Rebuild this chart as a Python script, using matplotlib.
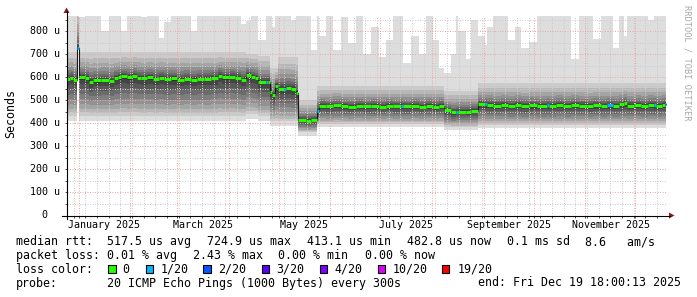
import datetime as dt
import numpy as np
import matplotlib
matplotlib.use("Agg")
import matplotlib.pyplot as plt
import matplotlib.dates as mdates
import matplotlib.transforms as mtrans
from matplotlib.patches import Rectangle, Polygon
from matplotlib.lines import Line2D

# ---------------- data ----------------
start = dt.datetime(2024, 12, 24, 18, 0, 13)
end = dt.datetime(2025, 12, 19, 18, 0, 13)
data_end_day = 359.4

# steps: start day (offset from start), median rtt (us), highest ping (us), lost pings of 20
step_day = [0, 1.8, 3.6, 6.4, 7.4, 10.8, 13.2, 15.6, 20.4, 25.2, 28.2, 30.6, 32.4, 36, 39,
            42, 44.4, 48, 51.6, 55.2, 58.2, 62.4, 66, 70.2, 74.4, 78, 82.2, 86.4, 90.6, 93,
            97.2, 100.8, 104.4, 107.4, 110.4, 112.8, 114.6, 119.4, 120.6, 121.8, 123, 124.8,
            126.6, 130.2, 131.4, 134.4, 137.4, 138.6, 143.4, 146.4, 150, 151.2, 155.4, 159.6,
            164.4, 168.6, 173.4, 177.6, 182.4, 187.2, 191.4, 195.6, 200.4, 201.6, 206.4, 211.2,
            215.4, 219.6, 223.2, 226.2, 230.4, 233.4, 234.6, 239.4, 242.4, 246.6, 250.8, 252,
            255.6, 260.4, 264.6, 268.8, 272.4, 277.2, 282, 288, 289.2, 293.4, 297.6, 302.4,
            307.2, 312, 315.6, 320.4, 324, 327.6, 331.2, 334.2, 336, 340.2, 344.4, 348.6,
            352.2, 353.4, 357, 358.8]
median_us = [593, 597, 587, 725, 600, 598, 580, 586, 588, 584, 596, 600, 604, 600, 605,
             598, 596, 600, 594, 597, 592, 595, 590, 594, 590, 594, 592, 596, 607, 600,
             603, 597, 590, 610, 602, 596, 579, 579, 579, 538, 521, 564,
             550, 550, 552, 549, 530, 414, 412, 414, 453, 477, 474, 478,
             475, 472, 477, 474, 476, 473, 477, 474, 476, 474, 477, 473,
             476, 472, 476, 456, 448, 450, 450, 449, 455, 483, 482, 479,
             477, 480, 476, 479, 475, 478, 476, 478, 476, 480, 476, 479,
             477, 475, 478, 476, 478, 476, 482, 487, 477, 479, 476, 479,
             478, 476, 480, 482]
max_us = [900, 900, 900, 900, 860, 900, 900, 900, 800, 900, 900, 900, 800, 900, 900,
          900, 860, 900, 900, 770, 840, 900, 900, 900, 800, 900, 900, 900, 900, 900,
          900, 900, 830, 845, 900, 900, 760, 900, 900, 900, 820, 900,
          900, 900, 900, 850, 900, 900, 900, 720, 900, 780, 900, 720,
          860, 750, 900, 700, 820, 690, 760, 900, 900, 660, 780, 700,
          900, 760, 640, 620, 700, 880, 800, 680, 850, 780, 740, 820,
          900, 900, 760, 820, 725, 752, 900, 900, 900, 900, 900, 681,
          900, 900, 768, 900, 900, 725, 900, 780, 900, 900, 900, 850,
          900, 900, 900, 900]
loss_n = [0, 0, 0, 1, 0, 0, 0, 0, 0, 0, 0, 0, 0, 0, 0,
          0, 0, 0, 0, 0, 0, 0, 0, 0, 0, 0, 0, 0, 0, 0,
          0, 0, 0, 0, 0, 0, 0, 1, 0, 0, 0, 0,
          0, 1, 0, 0, 0, 0, 0, 0, 1, 0, 0, 0,
          0, 0, 0, 0, 0, 0, 0, 0, 1, 0, 0, 0,
          0, 0, 0, 0, 0, 1, 0, 0, 0, 0, 1, 0,
          0, 0, 0, 0, 0, 0, 0, 1, 0, 0, 0, 0,
          0, 0, 0, 0, 1, 0, 0, 0, 0, 0, 0, 0,
          1, 0, 0, 1]

# smoke periods: start day, lowest ping, 2nd lowest, 2nd highest (us)
seg_start_day = [0, 6.4, 7.4, 107.4, 114.6, 121.8, 126.6, 138.6, 150, 226.2, 246.6]
seg_p1 = [410, 722, 410, 418, 412, 390, 390, 347, 383, 369, 379]
seg_p2 = [434, 723, 434, 440, 432, 410, 408, 362, 398, 385, 394]
seg_p19 = [709, 900, 709, 703, 694, 640, 690, 500, 564, 542, 573]
# relative position of inner pings between median and 2nd lowest / 2nd highest
lower_frac = [0.92, 0.82, 0.70, 0.57, 0.43, 0.30, 0.17, 0.06]   # p3..p10
upper_frac = [0.03, 0.08, 0.14, 0.22, 0.32, 0.45, 0.60, 0.78]   # p11..p18

loss_levels = [0, 1, 2, 3, 4, 10, 19]
loss_labels = ["0", "1/20", "2/20", "3/20", "4/20", "10/20", "19/20"]
loss_colors = ["#26ff00", "#00b8ff", "#0059ff", "#5e00ff", "#7e00ff", "#dd00ff", "#ff0000"]

y_ticks_us = [0, 100, 200, 300, 400, 500, 600, 700, 800]
month_labels = ["January 2025", "March 2025", "May 2025", "July 2025",
                "September 2025", "November 2025"]
month_label_num = [1, 3, 5, 7, 9, 11]

stats_rtt = ["517.5 us avg", "724.9 us max", "413.1 us min", "482.8 us now",
             "0.1 ms sd", "8.6   am/s"]
stats_loss = ["0.01 % avg", "2.43 % max", "0.00 % min", "0.00 % now"]
probe_text = "20 ICMP Echo Pings (1000 Bytes) every 300s"
end_text = "end: Fri Dec 19 18:00:13 2025"

# ---------------- figure ----------------
W, H = 697, 297
MONO = "DejaVu Sans Mono"
fig = plt.figure(figsize=(W / 100, H / 100), dpi=100)
fig.patch.set_facecolor("white")


def fx(x):
    return x / W


def fy(y):
    return 1 - y / H


L, R, T, B = 66.5, 666.5, 15.5, 215.5
YTOP = 868.0
ax = fig.add_axes([fx(L), fy(B), (R - L) / W, (B - T) / H])
ax.set_facecolor("white")
for s in ax.spines.values():
    s.set_visible(False)

t0 = mdates.date2num(start)
t1 = mdates.date2num(end)
xs = t0 + np.array(step_day + [data_end_day])
med = np.array(median_us + [median_us[-1]], dtype=float)
top = np.array(max_us + [max_us[-1]], dtype=float)
idx = np.searchsorted(seg_start_day, np.array(step_day + [data_end_day]), side="right") - 1
p1 = np.array(seg_p1, float)[idx]
p2 = np.array(seg_p2, float)[idx]
p19 = np.array(seg_p19, float)[idx]

pings = [None, p1, p2]
for f in lower_frac:
    pings.append(med - f * (med - p2))
for f in upper_frac:
    pings.append(med + f * (p19 - med))
pings.append(p19)
pings.append(top)

for k in range(1, 11):
    g = int(190 / 10 * (10 - k)) + 50
    col = "#%02x%02x%02x" % (g, g, g)
    ax.fill_between(xs, pings[k], pings[21 - k], step="post", color=col, lw=0, zorder=1)

# median: thin dark line plus loss-coloured bars
ax.step(xs, med, where="post", color="#1a1a1a", lw=0.8, zorder=3)
for i in range(len(step_day)):
    c = loss_colors[max(j for j, lv in enumerate(loss_levels) if loss_n[i] >= lv)]
    ax.hlines(median_us[i], xs[i], xs[i + 1], color=c, lw=2.1, zorder=4)

ax.set_xlim(t0, t1)
ax.set_ylim(0, YTOP)
ax.xaxis_date()
ax.xaxis.set_major_locator(mdates.MonthLocator())
ax.xaxis.set_minor_locator(mdates.WeekdayLocator(byweekday=mdates.SU))
ax.set_yticks(y_ticks_us)
ax.set_yticks([v + 50 for v in y_ticks_us], minor=True)
ax.set_axisbelow(False)
ax.grid(which="minor", color="#cccccc", ls=(0, (1, 1.5)), lw=0.72)
ax.grid(which="major", color="#eea6a6", ls=(0, (1, 1.5)), lw=0.72)
ax.tick_params(which="both", direction="out", length=1.6, width=0.6, color="#333333",
               labelleft=False, labelbottom=False)

# custom axis lines and arrows
fig.add_artist(Line2D([fx(62), fx(670)], [fy(215.5), fy(215.5)], color="black", lw=0.8))
fig.add_artist(Line2D([fx(66.5), fx(66.5)], [fy(219), fy(11)], color="black", lw=0.8))
fig.add_artist(Polygon([(fx(63.5), fy(13)), (fx(69.5), fy(13)), (fx(66.5), fy(7.5))],
                       closed=True, transform=fig.transFigure, color="#8b1a1a", lw=0))
fig.add_artist(Polygon([(fx(669), fy(212.5)), (fx(669), fy(218.5)), (fx(674.5), fy(215.5))],
                       closed=True, transform=fig.transFigure, color="#8b1a1a", lw=0))

# y tick labels
for v in y_ticks_us:
    y = B - v * (B - T) / YTOP
    fig.text(fx(44.5), fy(y), f"{v} u" if v else "0", ha="center", va="center",
             fontsize=7.2, family=MONO, color="black")

# x labels at mid-month
trans = mtrans.blended_transform_factory(ax.transData, ax.transAxes)
for m, lab in zip(month_label_num, month_labels):
    xm = mdates.date2num(dt.datetime(2025, m, 1)) + 15.5
    ax.text(xm, -10 / (B - T), lab, transform=trans, ha="center", va="center",
            fontsize=7.2, family=MONO, color="black", clip_on=False)

fig.text(fx(11), fy(114), "Seconds", rotation=90, ha="center", va="center",
         fontsize=8.4, family=MONO, color="black")
fig.text(fx(687), fy(5), "RRDTOOL / TOBI OETIKER", rotation=270, ha="center", va="top",
         fontsize=6.2, family=MONO, color="#a8a8a8")

FS = 8.4
# legend lines
fig.text(fx(16), fy(241.7), "median rtt:", ha="left", va="center", fontsize=FS, family=MONO)
for xpos, s in zip([107.3, 207.3, 307.3, 406.7, 506.7, 585], stats_rtt):
    fig.text(fx(xpos), fy(241.7), s, ha="left", va="center", fontsize=FS, family=MONO)
fig.text(fx(16), fy(255.3), "packet loss:", ha="left", va="center", fontsize=FS, family=MONO)
for xpos, s in zip([107.3, 193.3, 278, 365], stats_loss):
    fig.text(fx(xpos), fy(255.3), s, ha="left", va="center", fontsize=FS, family=MONO)
fig.text(fx(16), fy(269.2), "loss color:", ha="left", va="center", fontsize=FS, family=MONO)
sq_x = [108.3, 146, 203.3, 261.7, 320, 377.7, 441.7]
lab_x = [122.7, 160.7, 218.3, 276.7, 334.3, 392.3, 457.3]
for sx, lx, c, lab in zip(sq_x, lab_x, loss_colors, loss_labels):
    fig.add_artist(Rectangle((fx(sx), fy(272.7)), 7.4 / W, 7.6 / H, transform=fig.transFigure,
                             facecolor=c, edgecolor="black", lw=0.8))
    fig.text(fx(lx), fy(269.2), lab, ha="left", va="center", fontsize=FS, family=MONO)
fig.text(fx(16), fy(283), "probe:", ha="left", va="center", fontsize=FS, family=MONO)
fig.text(fx(107.3), fy(283), probe_text, ha="left", va="center", fontsize=FS, family=MONO)
fig.text(fx(478.3), fy(283), end_text, ha="left", va="center", fontsize=FS, family=MONO)

fig.savefig("out.png", dpi=100, facecolor="white")
